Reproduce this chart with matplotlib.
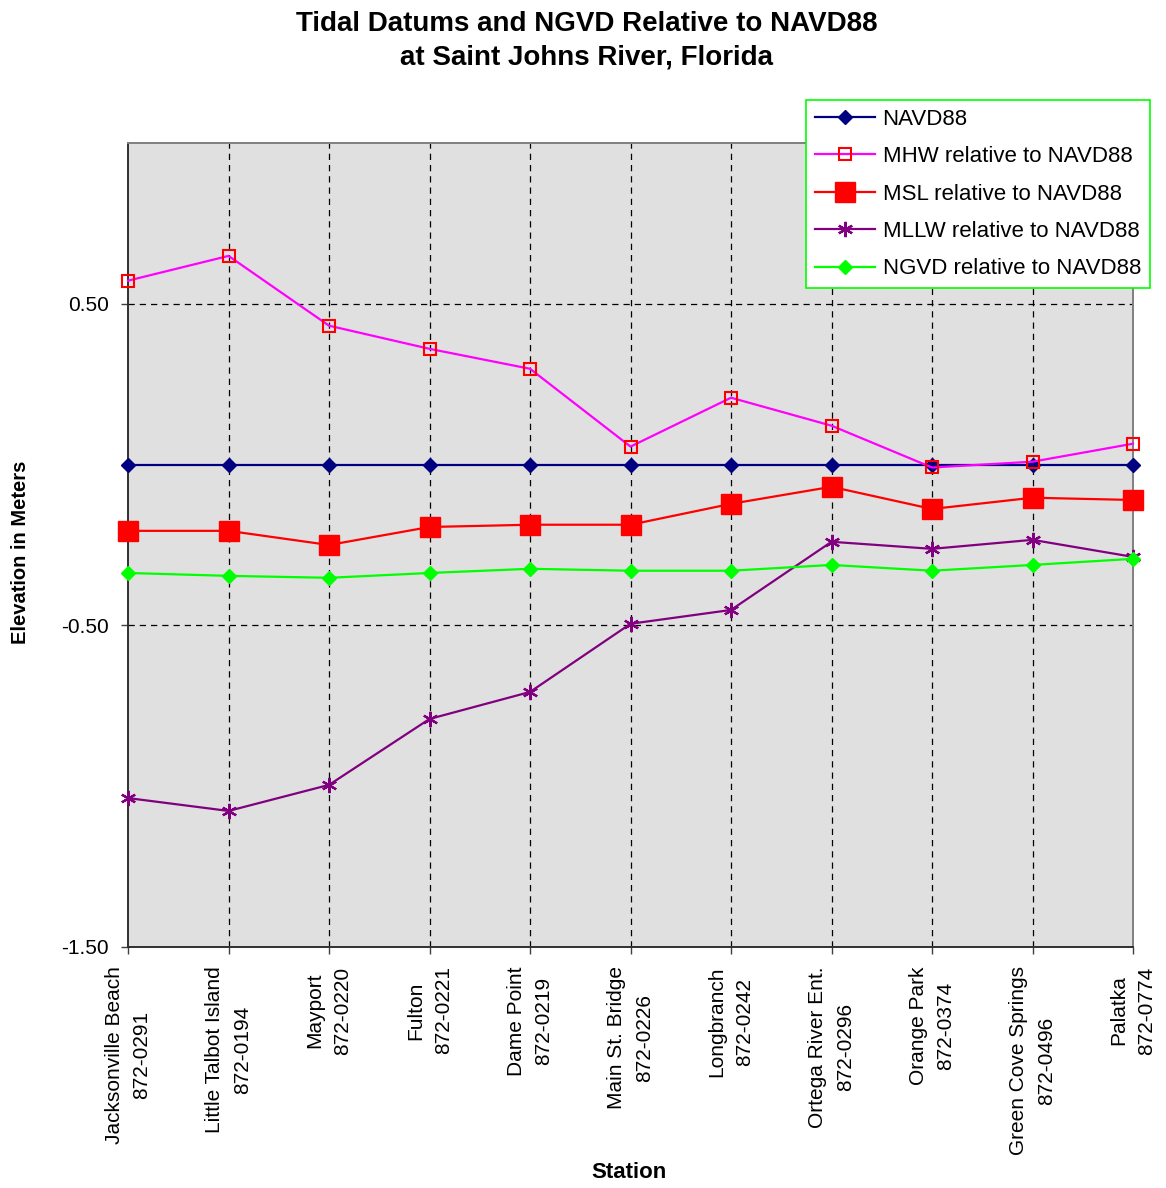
"""Tidal datums and NGVD relative to NAVD88 along the Saint Johns River."""

import matplotlib
matplotlib.use("Agg")
import matplotlib.pyplot as plt
from matplotlib.ticker import FixedLocator

plt.rcParams["font.family"] = ["Liberation Sans", "DejaVu Sans"]

stations = [
    "Jacksonville Beach\n872-0291",
    "Little Talbot Island\n872-0194",
    "Mayport\n872-0220",
    "Fulton\n872-0221",
    "Dame Point\n872-0219",
    "Main St. Bridge\n872-0226",
    "Longbranch\n872-0242",
    "Ortega River Ent.\n872-0296",
    "Orange Park\n872-0374",
    "Green Cove Springs\n872-0496",
    "Palatka\n872-0774",
]

navd88 = [0.0] * 11
mhw = [0.572, 0.649, 0.432, 0.360, 0.298, 0.056, 0.208, 0.121, -0.009, 0.009, 0.065]
msl = [-0.206, -0.206, -0.250, -0.194, -0.187, -0.187, -0.122, -0.069, -0.138, -0.103, -0.110]
mllw = [-1.037, -1.077, -0.996, -0.791, -0.707, -0.495, -0.452, -0.240, -0.262, -0.234, -0.287]
ngvd = [-0.337, -0.346, -0.352, -0.337, -0.324, -0.330, -0.330, -0.312, -0.330, -0.312, -0.293]


def main() -> None:
    fig = plt.figure(figsize=(11.66, 11.88), dpi=100)
    ax = fig.add_axes([0.1098, 0.2029, 0.8619, 0.6767])
    ax.set_facecolor("#E0E0E0")

    x = list(range(len(stations)))

    ax.plot(x, navd88, color="#000080", lw=1.6, marker="D", ms=7,
            mfc="#000080", mec="#000080", label="NAVD88", zorder=3, clip_on=False)
    ax.plot(x, mhw, color="#FF00FF", lw=1.6, marker="s", ms=9,
            mfc="none", mec="#FF0000", mew=1.5,
            label="MHW relative to NAVD88", zorder=4, clip_on=False)
    ax.plot(x, msl, color="#FF0000", lw=1.6, marker="s", ms=15,
            mfc="#FF0000", mec="#FF0000", label="MSL relative to NAVD88",
            zorder=3, clip_on=False)
    ax.plot(x, mllw, color="#800080", lw=1.6, marker=(6, 2, 0), ms=11,
            mec="#800080", mew=1.6, label="MLLW relative to NAVD88",
            zorder=3, clip_on=False)
    ax.plot(x, ngvd, color="#00FF00", lw=1.6, marker="D", ms=7,
            mfc="#00FF00", mec="#00FF00", label="NGVD relative to NAVD88",
            zorder=3, clip_on=False)

    ax.set_xlim(0, len(stations) - 1)
    ax.set_ylim(-1.5, 1.0)
    ax.set_xticks(x)
    ax.set_xticklabels(stations, rotation=90, ha="center", va="top",
                       multialignment="center", fontsize=15, linespacing=1.6)
    ax.yaxis.set_major_locator(FixedLocator([-1.5, -0.5, 0.5]))
    ax.set_yticklabels(["-1.50", "-0.50", "0.50"], fontsize=15)
    ax.tick_params(axis="both", direction="out", length=5, width=1, color="#404040")
    ax.tick_params(axis="x", pad=9)
    ax.tick_params(axis="y", pad=9)

    # dashed grid at every station and at the labelled elevations
    for xi in x[1:-1]:
        ax.axvline(xi, color="black", lw=0.9, ls=(0, (5, 4)), zorder=1)
    for yi in (-0.5, 0.5):
        ax.axhline(yi, color="black", lw=0.9, ls=(0, (5, 4)), zorder=1)

    for side in ("left", "bottom"):
        ax.spines[side].set_color("#303030")
        ax.spines[side].set_linewidth(1.4)
    for side in ("top", "right"):
        ax.spines[side].set_color("#808080")
        ax.spines[side].set_linewidth(1.4)

    fig.text(0.503, 0.991, "Tidal Datums and NGVD Relative to NAVD88\nat Saint Johns River, Florida",
             ha="center", va="top", fontsize=20, fontweight="bold", linespacing=1.4)
    fig.text(0.018, 0.535, "Elevation in Meters", rotation=90, ha="center", va="center",
             fontsize=14.5, fontweight="bold")
    fig.text(0.539, 0.004, "Station", ha="center", va="bottom",
             fontsize=16, fontweight="bold")

    leg = fig.legend(loc="upper left", bbox_to_anchor=(0.691, 0.916), fontsize=16,
                     frameon=True, fancybox=False, handlelength=2.7,
                     handletextpad=0.36, labelspacing=0.74, borderpad=0.4,
                     borderaxespad=0.0)
    frame = leg.get_frame()
    frame.set_edgecolor("#00FF00")
    frame.set_linewidth(1.2)
    frame.set_facecolor("white")
    frame.set_alpha(1.0)

    fig.savefig("out.png", dpi=100)
    plt.close(fig)


if __name__ == "__main__":
    main()
